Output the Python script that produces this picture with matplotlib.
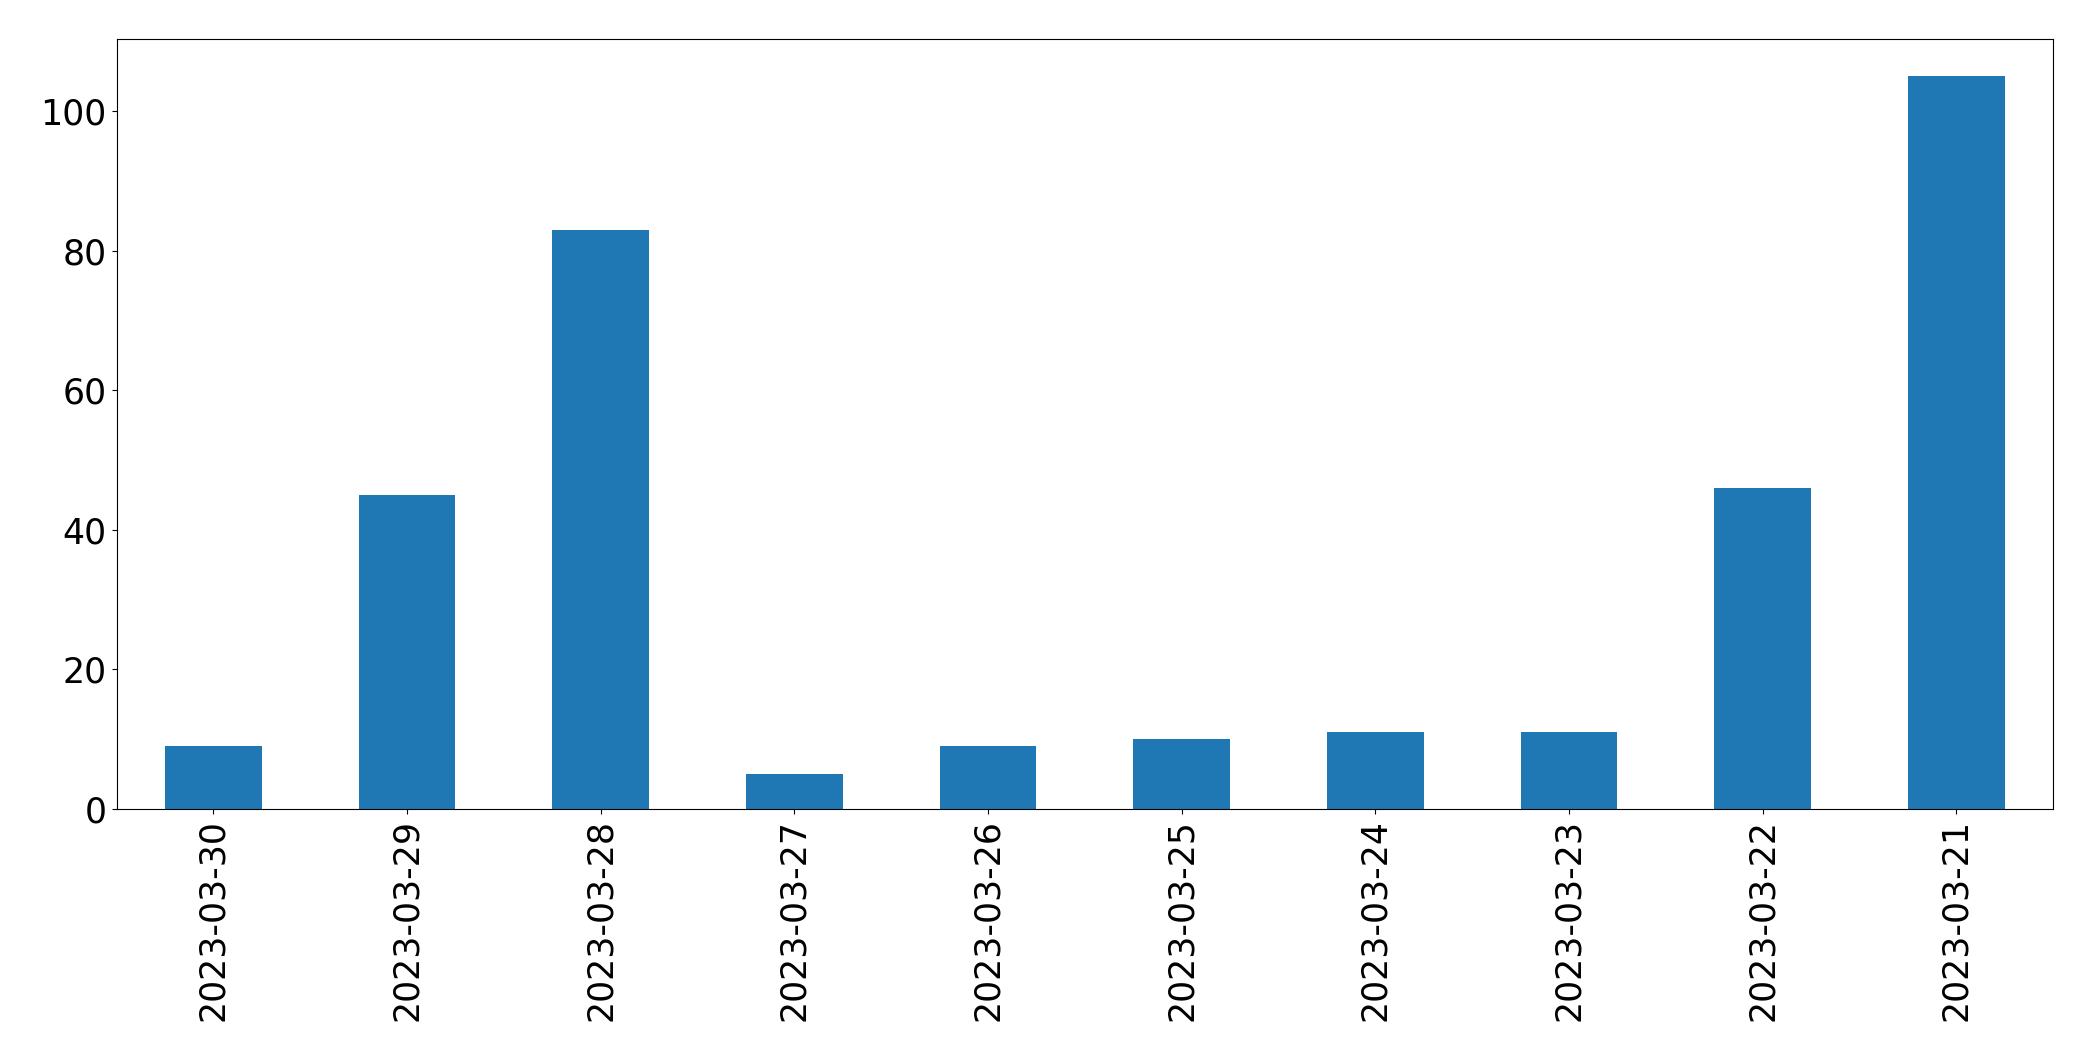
import matplotlib
matplotlib.use("Agg")
import matplotlib.pyplot as plt

dates = ["2023-03-30", "2023-03-29", "2023-03-28", "2023-03-27", "2023-03-26",
         "2023-03-25", "2023-03-24", "2023-03-23", "2023-03-22", "2023-03-21"]
counts = [9, 45, 83, 5, 9, 10, 11, 11, 46, 105]

fig, ax = plt.subplots(figsize=(20.93, 10.61), dpi=100)
fig.subplots_adjust(left=0.0557, right=0.981, top=0.9628, bottom=0.2375)

x = range(len(dates))
ax.bar(x, counts, width=0.5, color="#1f77b4")
ax.set_xlim(-0.5, len(dates) - 0.5)
ax.set_ylim(0, max(counts) * 1.05)
ax.set_xticks(list(x))
ax.set_xticklabels(dates, rotation=90)
ax.tick_params(labelsize=25)

fig.savefig("out.png", dpi=100)
